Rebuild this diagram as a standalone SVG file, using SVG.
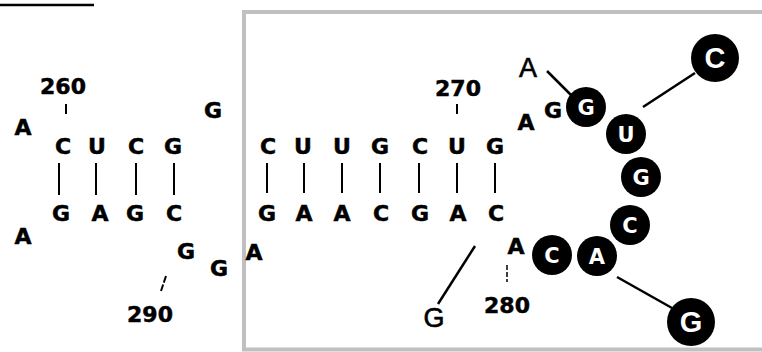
<svg xmlns="http://www.w3.org/2000/svg" width="762" height="352" viewBox="0 0 762 352">
<style>
.b{font-family:"DejaVu Sans",sans-serif;font-weight:bold;font-size:22px;fill:#000;stroke:#000;stroke-width:0.5;text-anchor:middle}
.r{font-family:"Liberation Sans",Arial,sans-serif;font-size:27px;fill:#000;stroke:#000;stroke-width:0.6;text-anchor:middle}
.w{font-family:"DejaVu Sans",sans-serif;font-weight:bold;font-size:21px;fill:#fff;text-anchor:middle}
.W{font-family:"Liberation Sans",Arial,sans-serif;font-weight:bold;font-size:29px;fill:#fff;text-anchor:middle}
.bp{stroke:#000;stroke-width:2;fill:none}
.cn{stroke:#000;stroke-width:2.5;fill:none}
</style>
<rect width="762" height="352" fill="#fff"/>
<line x1="0" y1="5" x2="94" y2="5" stroke="#000" stroke-width="2.5"/>
<rect id="box" x="244" y="12" width="600" height="337.5" fill="none" stroke="#c0c0c0" stroke-width="4"/>

<g id="connectors">
  <line class="bp" x1="59" y1="163" x2="59" y2="195"/>
  <line class="bp" x1="96" y1="163" x2="96" y2="195"/>
  <line class="bp" x1="136" y1="163" x2="136" y2="195"/>
  <line class="bp" x1="174" y1="163" x2="174" y2="195"/>
  <line class="bp" x1="267" y1="163" x2="267" y2="193"/>
  <line class="bp" x1="304" y1="163" x2="304" y2="193"/>
  <line class="bp" x1="342" y1="163" x2="342" y2="193"/>
  <line class="bp" x1="380" y1="163" x2="380" y2="193"/>
  <line class="bp" x1="419" y1="163" x2="419" y2="193"/>
  <line class="bp" x1="457" y1="163" x2="457" y2="193"/>
  <line class="bp" x1="495" y1="163" x2="495" y2="193"/>
  <line class="bp" x1="66" y1="104" x2="66" y2="114"/>
  <line class="bp" x1="457" y1="104" x2="457" y2="114"/>
  <line class="bp" x1="166" y1="276" x2="161" y2="291" stroke-dasharray="7 2"/>
  <line x1="507" y1="265" x2="507" y2="282" stroke="#000" stroke-width="1.5" stroke-dasharray="5 2"/>
  <line class="cn" x1="547" y1="71" x2="571" y2="95"/>
  <line class="cn" x1="643" y1="107" x2="695" y2="73"/>
  <line class="cn" x1="617" y1="277" x2="672" y2="308"/>
  <line class="cn" x1="475" y1="246" x2="438" y2="304"/>
</g>

<g id="labels">
  <text class="b" x="63" y="94">260</text>
  <text class="b" x="458" y="96">270</text>
  <text class="b" x="507" y="313">280</text>
  <text class="b" x="150" y="322">290</text>
</g>

<g id="n-left-A1"><text class="b" x="23" y="135">A</text></g>
<g id="n-C260"><text class="b" x="63" y="154">C</text></g>
<g id="n-U261"><text class="b" x="97" y="154">U</text></g>
<g id="n-C262"><text class="b" x="136" y="154">C</text></g>
<g id="n-G263"><text class="b" x="173" y="154">G</text></g>
<g id="n-G264"><text class="b" x="213" y="118">G</text></g>
<g id="n-A265"><text class="b" x="254" y="260">A</text></g>
<g id="n-C266"><text class="b" x="268" y="154">C</text></g>
<g id="n-U267"><text class="b" x="303" y="154">U</text></g>
<g id="n-U268"><text class="b" x="342" y="154">U</text></g>
<g id="n-G269"><text class="b" x="380" y="154">G</text></g>
<g id="n-C270a"><text class="b" x="420" y="154">C</text></g>
<g id="n-U270"><text class="b" x="457" y="154">U</text></g>
<g id="n-G271"><text class="b" x="495" y="154">G</text></g>
<g id="n-A272"><text class="b" x="526" y="130">A</text></g>
<g id="n-G273"><text class="b" x="553" y="118">G</text></g>
<g id="n-A-sub"><text class="r" x="528" y="77">A</text></g>

<g id="n-G274"><circle cx="586" cy="107" r="20" fill="#000"/><text class="w" x="586" y="115">G</text></g>
<g id="n-U275"><circle cx="626" cy="134" r="20" fill="#000"/><text class="w" x="626" y="142">U</text></g>
<g id="n-G276"><circle cx="641" cy="177" r="20" fill="#000"/><text class="w" x="641" y="185">G</text></g>
<g id="n-C277"><circle cx="630" cy="225" r="20" fill="#000"/><text class="w" x="630" y="233">C</text></g>
<g id="n-A278"><circle cx="597" cy="256" r="20" fill="#000"/><text class="w" x="597" y="264">A</text></g>
<g id="n-C279"><circle cx="552" cy="255" r="20" fill="#000"/><text class="w" x="552" y="263">C</text></g>

<g id="n-C-sub"><circle cx="715" cy="58" r="24" fill="#000"/><text class="W" x="715" y="68">C</text></g>
<g id="n-G-sub"><circle cx="691" cy="322" r="24" fill="#000"/><text class="W" x="691" y="332">G</text></g>

<g id="n-A280"><text class="b" x="516" y="254">A</text></g>
<g id="n-C281"><text class="b" x="496" y="221">C</text></g>
<g id="n-A282"><text class="b" x="458" y="221">A</text></g>
<g id="n-G283"><text class="b" x="420" y="221">G</text></g>
<g id="n-C284"><text class="b" x="381" y="221">C</text></g>
<g id="n-A285"><text class="b" x="342" y="221">A</text></g>
<g id="n-A286"><text class="b" x="304" y="221">A</text></g>
<g id="n-G287"><text class="b" x="267" y="221">G</text></g>
<g id="n-G-sub2"><text class="r" x="434" y="327">G</text></g>
<g id="n-G288"><text class="b" x="219" y="276">G</text></g>
<g id="n-G289"><text class="b" x="186" y="259">G</text></g>
<g id="n-C290"><text class="b" x="174" y="221">C</text></g>
<g id="n-G291"><text class="b" x="135" y="221">G</text></g>
<g id="n-A292"><text class="b" x="100" y="221">A</text></g>
<g id="n-G293"><text class="b" x="61" y="221">G</text></g>
<g id="n-left-A2"><text class="b" x="23" y="244">A</text></g>
</svg>
